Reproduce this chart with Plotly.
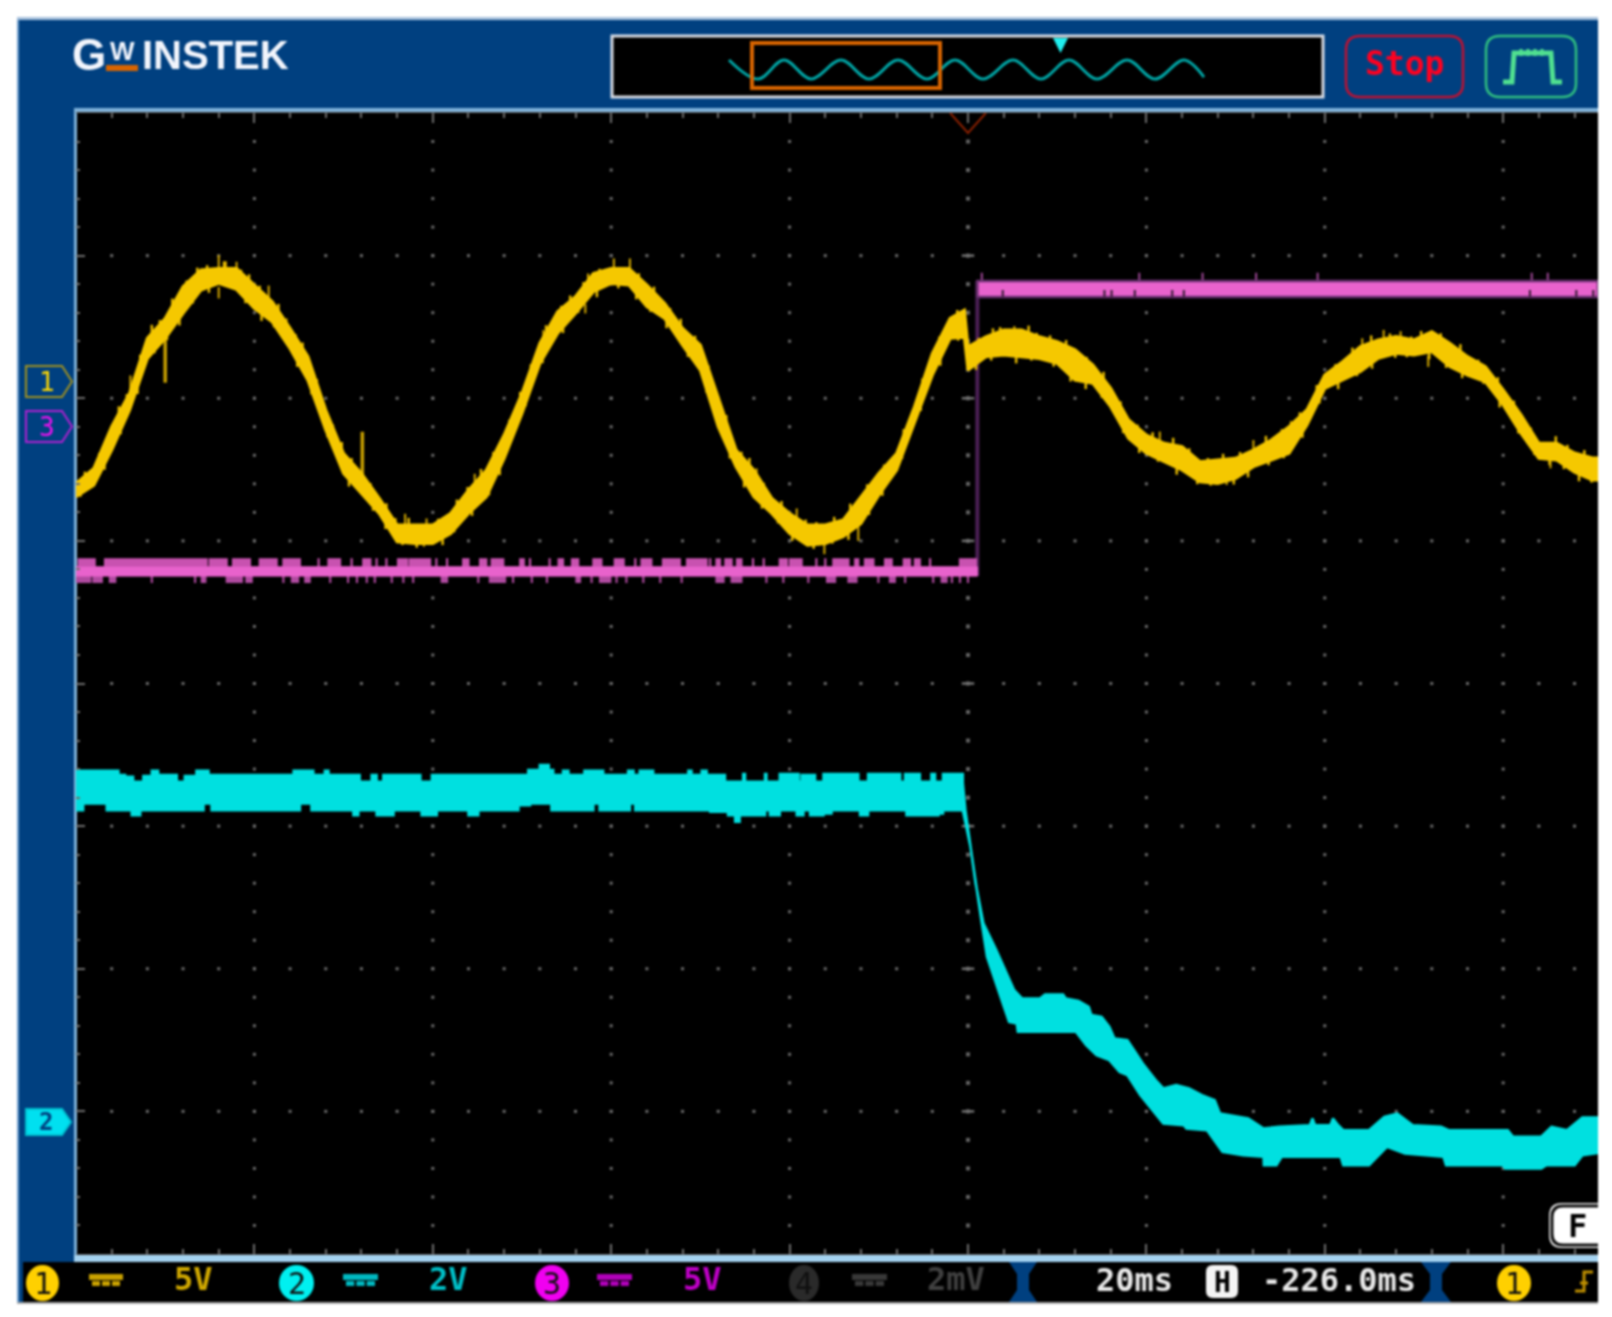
import numpy as np
import plotly.graph_objects as go

# ---------- time base (ms, 20 ms/div, 0 at trigger) and vertical scale (divisions from centre)
ch1_t = [-100,-98,-96,-94,-92,-90,-88,-86,-84,-82,-80,-78,-76,-74,-72,-70,-68,-66,-64,-62,-60,-58,-56,-54,-52,-50,
         -48,-46,-44,-42,-40,-38,-36,-34,-32,-30,-28,-26,-24,-22,-20,-18,-16,-14,-12,-10,-8,-6,-4,-2,-0.4,0,
         2,4,6,8,10,12,14,16,18,20,22,24,26,28,30,32,34,36,38,40,42,44,46,48,50,52,54,56,58,60,62,64,66,68,70,70.63]
ch1_top = [1.403,1.508,1.800,2.034,2.420,2.560,2.782,2.899,2.910,2.910,2.794,2.677,2.490,2.291,1.917,1.613,1.473,1.298,1.111,1.111,1.111,1.192,1.356,1.496,1.742,2.034,
           2.384,2.607,2.712,2.875,2.910,2.910,2.794,2.665,2.490,2.373,2.010,1.637,1.496,1.298,1.192,1.111,1.111,1.146,1.309,1.473,1.613,1.940,2.314,2.560,2.618,2.361,
           2.431,2.478,2.478,2.431,2.397,2.339,2.233,2.070,1.848,1.742,1.684,1.661,1.555,1.567,1.579,1.637,1.707,1.801,1.918,2.163,2.257,2.362,2.409,2.432,2.409,2.467,2.385,2.292,2.222,2.058,1.883,1.684,1.684,1.616,1.581,1.581]
ch1_bot = [1.309,1.391,1.637,1.917,2.279,2.420,2.595,2.758,2.805,2.763,2.630,2.536,2.349,2.127,1.777,1.473,1.333,1.192,0.994,0.982,0.982,1.052,1.192,1.309,1.578,1.894,
           2.244,2.455,2.595,2.747,2.805,2.794,2.642,2.560,2.373,2.197,1.800,1.520,1.309,1.192,1.052,0.970,0.982,1.029,1.122,1.321,1.496,1.823,2.162,2.420,2.427,2.197,
           2.291,2.303,2.291,2.279,2.245,2.128,2.105,1.941,1.719,1.614,1.555,1.497,1.415,1.403,1.439,1.520,1.567,1.614,1.813,2.070,2.128,2.187,2.280,2.315,2.303,2.327,2.222,2.163,2.116,1.953,1.754,1.579,1.567,1.482,1.426,1.426]
ch1_glitch_t = [-90.0, -67.9]
ch1_glitch_a = [2.42, 1.45]
ch1_glitch_b = [2.109, 1.765]
ch1_spike_t = [-93.9,-84.0,-83.2,-82.0,-84.0,-78.4,-76.4,-63.1,-60.7,-61.0,-55.3,-53.9,-47.6,-42.6,-42.9,-39.7,-37.9,-16.1,-19.2,-23.7,-12.3,5.2,12.6,21.5,29.0,32.0,46.6,51.6,65.3,48.5,44.2,36.2]
ch1_spike_a = [2.03,2.85,2.85,2.85,2.78,2.66,2.47,1.08,1.08,1.0,1.33,1.33,2.38,2.74,2.66,2.88,2.88,0.99,1.15,1.45,1.13,2.40,2.16,1.70,1.42,1.60,2.38,2.30,1.60,2.40,2.30,1.70]
ch1_spike_b = [2.16,3.004,2.96,2.957,2.70,2.79,2.56,1.19,1.157,0.959,1.47,1.309,2.478,2.875,2.595,2.98,2.98,0.907,1.227,1.508,1.0,2.506,2.116,1.766,1.392,1.707,2.479,2.22,1.509,2.47,2.42,1.84]
# small noise hairs on the yellow band: position and height above the upper / below the lower edge
ch1_up_t = [-99,-97.4,-95.2,-94.3,-92.8,-91.5,-90.6,-89.2,-87.6,-86.4,-85.3,-83.4,-81.5,-80.6,-79.4,-77.3,-75.4,-74.6,-73,-71.2,-70.2,-69.1,-67,-65.2,-64.2,-62.7,-59.4,-57.3,-56.1,-54.6,-53.2,-51.4,-50.2,-49,-47.3,-45.6,-44.6,-43.1,-41.3,-36.9,-35.2,-33.4,-32.2,-30.6,-29.1,-27.1,-25.4,-24.5,-22.9,-20.9,-18.2,-17,-15,-13.2,-11.3,-9.4,-7.2,-5.1,-3.2,-1.2,1.2,2.8,3.6,6.8,7.7,9.2,11,13.3,15.2,17.1,19,20.7,23,24.8,26.9,28.6,30.5,33.4,35.2,37.2,39.1,41.2,43.1,45.2,47.3,49.7,50.8,53,55.2,57.2,59.4,61.2,63.1,65.9,67.2,69.1]
ch1_up_h = [.03,.02,.05,.03,.04,.06,.03,.05,.02,.04,.03,.05,.02,.04,.03,.05,.02,.04,.03,.02,.05,.03,.02,.04,.03,.05,.02,.04,.03,.05,.03,.02,.04,.03,.05,.02,.04,.03,.02,.03,.04,.02,.05,.03,.02,.04,.03,.05,.02,.04,.03,.02,.04,.05,.03,.02,.04,.03,.02,.03,.02,.04,.03,.05,.02,.03,.04,.02,.05,.03,.02,.04,.05,.03,.02,.04,.03,.05,.02,.03,.04,.02,.04,.05,.03,.02,.04,.03,.05,.02,.04,.03,.02,.05,.03,.04]
ch1_dn_t = [-99.5,-96.8,-95,-93.1,-91.2,-89.8,-88.4,-86.9,-85.1,-81,-79.2,-77.8,-75.2,-73.6,-71.8,-69.4,-66.7,-65.3,-63.4,-61.8,-58.9,-57.6,-55.6,-53.7,-52.5,-49.6,-47.7,-45.4,-43.7,-41.6,-39.2,-37.2,-35.6,-33.8,-31.4,-29.3,-26.7,-25.1,-23.1,-21.3,-19.7,-17.3,-15.2,-13.4,-11.1,-9.6,-7.4,-5.3,-3.1,-1.1,0.9,2.6,5.4,7.1,9.6,11.5,13.2,15,17.4,19.2,21.3,23.4,25.7,27.2,29.8,31.4,33.7,35.4,37.5,39.4,41.5,43.6,45.3,47.9,49.2,51.7,53.6,55.4,57.8,59.6,61.7,63.5,65.2,66.8,68.5,69.9]
ch1_dn_h = [.02,.04,.03,.05,.02,.03,.05,.02,.04,.03,.05,.02,.04,.03,.02,.05,.03,.04,.02,.03,.05,.02,.04,.03,.05,.02,.03,.04,.02,.05,.03,.04,.02,.05,.03,.02,.04,.05,.03,.02,.04,.03,.02,.05,.03,.04,.02,.03,.05,.02,.04,.03,.05,.02,.03,.04,.05,.02,.03,.04,.02,.05,.03,.02,.04,.05,.03,.02,.04,.03,.05,.02,.04,.03,.02,.05,.03,.04,.02,.05,.03,.02,.04,.03,.05,.02]

# CH2: stepped envelope before the transition, then the falling part
ch2_step_top_t = [-100,-95.25,-94.5,-93.6,-92.45,-91.5,-90.8,-88.7,-87.8,-86.5,-85.15,-75.6,-73.4,-72.1,-71.7,-68.2,-66.85,-66.3,-65.55,-61.4,-60.1,-49.3,-48.0,-47.6,-47.4,-47.0,-46.5,-45.4,-44.8,-43.0,-40.9,-38.1,-37.5,-36.8,-35.3,-31.35,-31.0,-29.85,-29.3,-27.25,-25.2,-25.0,-22.75,-22.6,-21.1,-19.0,-18.65,-17.15,-16.2,-12.3,-11.2,-7.6,-7.05,-5.4,-4.1,-3.7,-2.8]
ch2_step_top_v = [-0.612,-0.642,-0.654,-0.689,-0.649,-0.612,-0.642,-0.689,-0.649,-0.612,-0.642,-0.612,-0.642,-0.612,-0.642,-0.689,-0.642,-0.689,-0.642,-0.689,-0.642,-0.607,-0.572,-0.607,-0.572,-0.607,-0.642,-0.612,-0.642,-0.612,-0.642,-0.612,-0.642,-0.612,-0.642,-0.612,-0.642,-0.612,-0.642,-0.689,-0.635,-0.689,-0.635,-0.689,-0.635,-0.689,-0.642,-0.689,-0.635,-0.689,-0.635,-0.689,-0.635,-0.689,-0.635,-0.689,-0.635]
ch2_step_bot_t = [-100,-99.2,-96.55,-93.75,-92.8,-85.7,-84.8,-74.9,-73.6,-68.9,-68.35,-66.3,-64.4,-61.25,-59.55,-56.0,-54.9,-50.4,-49.1,-46.7,-42.0,-41.3,-37.9,-37.3,-28.9,-26.9,-26.1,-25.6,-22.75,-22.2,-21.1,-19.2,-18.45,-17.7,-16.2,-15.3,-12.1,-11.2,-6.9,-3.3,-2.8]
ch2_step_bot_v = [-0.888,-0.841,-0.888,-0.923,-0.888,-0.841,-0.888,-0.841,-0.888,-0.923,-0.888,-0.923,-0.888,-0.923,-0.888,-0.923,-0.888,-0.853,-0.841,-0.888,-0.841,-0.888,-0.841,-0.888,-0.899,-0.923,-0.970,-0.923,-0.888,-0.923,-0.888,-0.923,-0.888,-0.923,-0.911,-0.888,-0.923,-0.888,-0.923,-0.911,-0.888]
ch2_fall_top_t = [-0.58,-0.29,0.86,1.73,3.17,5.18,6.05,8.07,8.64,10.66,10.95,12.39,13.54,13.83,14.98,15.85,16.42,17.87,18.73,19.59,21.04,21.9,23.34,24.78,26.22,27.66,28.24,31.41,33.14,34.87,38.33,38.62,38.9,40.63,40.92,41.5,42.07,44.96,46.68,48.13,49.86,53.03,53.89,60.52,61.1,64.27,65.42,67.15,68.88,70.63]
ch2_fall_top_v = [-0.696,-0.888,-1.402,-1.682,-1.869,-2.150,-2.208,-2.208,-2.180,-2.180,-2.208,-2.225,-2.267,-2.325,-2.337,-2.407,-2.489,-2.501,-2.582,-2.664,-2.781,-2.839,-2.816,-2.839,-2.886,-2.921,-3.015,-3.050,-3.120,-3.108,-3.097,-3.050,-3.097,-3.097,-3.050,-3.097,-3.132,-3.132,-3.038,-3.015,-3.097,-3.108,-3.132,-3.132,-3.178,-3.178,-3.108,-3.132,-3.043,-3.043]
ch2_fall_bot_t = [-0.58,0.28,1.44,2.13,4.03,4.61,5.47,5.59,12.1,13.25,14.41,15.85,17.0,17.87,19.31,21.9,24.2,24.49,26.8,28.53,30.83,33.14,33.17,34.58,35.16,41.79,42.07,44.96,46.97,48.99,53.31,53.6,59.94,60.23,64.27,64.84,68.01,68.88,70.63]
ch2_fall_bot_v = [-0.888,-1.145,-1.636,-1.916,-2.267,-2.372,-2.384,-2.442,-2.442,-2.536,-2.606,-2.641,-2.723,-2.746,-2.886,-3.085,-3.097,-3.120,-3.132,-3.284,-3.307,-3.319,-3.377,-3.377,-3.319,-3.319,-3.377,-3.377,-3.249,-3.295,-3.319,-3.377,-3.377,-3.400,-3.400,-3.377,-3.377,-3.307,-3.291]

# CH3: low level, step at t_step, high level
ch3_step_t = 1.05
ch3_low_core = [0.753, 0.818]
ch3_low_fringe = [0.705, 0.879]
ch3_high_core = [2.710, 2.822]
ch3_high_spike = 2.88
ch3_low_up = [(-99.7,-97.9),(-96.75,-96.2),(-96.0,-91.9),(-91.7,-88.0),(-87.8,-85.35),(-85.0,-83.1),(-82.4,-80.5),(-79.4,-77.5),(-76.75,-74.9),(-72.8,-72.8),(-71.7,-70.4),(-69.1,-69.1),(-67.8,-67.0),(-66.3,-66.3),(-65.2,-65.2),(-63.9,-62.9),(-62.6,-60.3),(-59.6,-59.6),(-58.4,-58.4),(-56.6,-56.0),(-54.7,-54.0),(-53.4,-52.1),(-50.2,-49.8),(-49.1,-49.1),(-46.9,-46.9),(-45.9,-45.4),(-44.4,-43.7),(-42.0,-41.1),(-39.6,-38.6),(-37.3,-37.3),(-36.6,-35.5),(-34.2,-32.3),(-31.5,-29.3),(-28.9,-28.9),(-28.2,-27.8),(-27.2,-26.5),(-25.9,-25.4),(-24.1,-24.1),(-22.9,-22.9),(-21.1,-20.3),(-19.95,-18.65),(-17.0,-17.0),(-16.0,-16.0),(-15.1,-13.4),(-12.65,-12.3),(-11.55,-10.6),(-9.3,-8.55),(-7.2,-6.5),(-5.95,-5.4),(-4.25,-4.25),(-0.9,0.9)]
ch3_low_down = [(-99.9,-98.4),(-98.05,-97.1),(-96.2,-95.6),(-91.5,-91.5),(-86.65,-86.65),(-85.9,-85.5),(-83.1,-81.4),(-80.9,-80.3),(-76.75,-76.75),(-75.8,-75.1),(-74.3,-73.8),(-71.5,-71.5),(-69.5,-69.5),(-68.5,-68.5),(-67.4,-67.4),(-66.5,-66.5),(-64.6,-64.6),(-63.3,-63.3),(-62.2,-62.2),(-59.0,-58.4),(-54.9,-54.9),(-53.6,-51.9),(-51.0,-51.0),(-48.9,-48.9),(-47.2,-47.2),(-43.9,-43.5),(-42.2,-42.2),(-41.25,-40.1),(-39.4,-39.4),(-38.3,-38.3),(-36.4,-36.4),(-34.5,-34.5),(-32.1,-32.1),(-28.2,-27.4),(-26.5,-25.4),(-22.6,-22.6),(-20.7,-20.7),(-17.9,-17.9),(-15.8,-14.9),(-13.4,-12.5),(-10.05,-10.05),(-8.75,-8.2),(-7.05,-7.05),(-3.9,-3.9),(-2.95,-2.4),(-1.8,-1.8),(-0.9,-0.9),(0,0)]
ch3_high_up_t = [1.55,19.2,26.3,32.3,39.2,63.2,65.0]
ch3_high_notch_t = [3.9,15.3,16.1,18.7,22.9,24.2,63.0,68.2,70.1]

# overview strip
overview_x = [117,146,172,199,229,257,286,315,343,371,401,429,457,485,515,543,572,592]
overview_y = [1,-1,1,-1,1,-1,1,-1,1,-1,1,-1,1,-1,1,-1,1,-0.8]

channel_labels = ["1", "2", "3", "4"]
scale_labels = ["5V", "2V", "5V", "2mV"]
time_scale = "20ms"
h_position = "-226.0ms"

W, H = 1612, 1317
BLUE = "#004080"
MONO = "DejaVu Sans Mono"
YEL, CYA, PNK = "#F5C800", "#00E0E0", "#E862CC"


def X(p): return p / W
def Y(p): return 1 - p / H


fig = go.Figure()
shapes, notes = [], []


def rect(x0, y0, x1, y1, fill, line=None, lw=0, layer="below"):
    shapes.append(dict(type="rect", xref="paper", yref="paper", x0=X(x0), x1=X(x1), y0=Y(y0), y1=Y(y1),
                       fillcolor=fill, line=dict(color=line or fill, width=lw), layer=layer))


def path(points, fill=None, line=None, lw=2, close=True, layer="above"):
    d = "M" + " L".join(f"{X(a):.5f},{Y(b):.5f}" for a, b in points) + (" Z" if close else "")
    shapes.append(dict(type="path", xref="paper", yref="paper", path=d, fillcolor=fill or "rgba(0,0,0,0)",
                       line=dict(color=line or "rgba(0,0,0,0)", width=lw), layer=layer))


def round_rect(x0, y0, x1, y1, r, fill=None, line=None, lw=2, layer="above"):
    a, b, c, d = X(x0), X(x1), Y(y0), Y(y1)
    rx, ry = r / W, r / H
    p = (f"M{a+rx:.5f},{c:.5f} L{b-rx:.5f},{c:.5f} Q{b:.5f},{c:.5f} {b:.5f},{c-ry:.5f} L{b:.5f},{d+ry:.5f} "
         f"Q{b:.5f},{d:.5f} {b-rx:.5f},{d:.5f} L{a+rx:.5f},{d:.5f} Q{a:.5f},{d:.5f} {a:.5f},{d+ry:.5f} "
         f"L{a:.5f},{c-ry:.5f} Q{a:.5f},{c:.5f} {a+rx:.5f},{c:.5f} Z")
    shapes.append(dict(type="path", xref="paper", yref="paper", path=p, fillcolor=fill or "rgba(0,0,0,0)",
                       line=dict(color=line or "rgba(0,0,0,0)", width=lw), layer=layer))


def ellipse(x0, y0, x1, y1, fill):
    shapes.append(dict(type="circle", xref="paper", yref="paper", x0=X(x0), x1=X(x1), y0=Y(y0), y1=Y(y1),
                       fillcolor=fill, line=dict(color=fill, width=0), layer="above"))


def text(t, x, y, size, color, family=MONO, bold=False):
    notes.append(dict(text=f"<b>{t}</b>" if bold else t, xref="paper", yref="paper", x=X(x), y=Y(y), xanchor="center",
                      yanchor="middle", showarrow=False, font=dict(family=family, size=size, color=color)))


# ---------- instrument frame
rect(17, 17, 1598, 1302, BLUE)
rect(17, 17, 1598, 20, "#A6C0DC")
rect(17, 20, 19, 1302, "#6C9CCC")
rect(74, 108, 1598, 112, "#7FB2DA")
rect(74, 108, 77, 1256, "#7FB2DA")
rect(77, 112, 1598, 1255, "#000000")
rect(74, 1255, 1598, 1262, "#A4D2F0")
rect(23, 1262, 1598, 1302, "#000000")
rect(17, 1302, 1598, 1304, "#AAAAAA")

# logo
text("G", 89, 55, 44, "#F2F5FC", "Liberation Sans", True)
text("W", 122, 51, 26, "#F2F5FC", "Liberation Sans", True)
rect(106, 65, 138, 71, "#D86400")
text("INSTEK", 215, 55, 40, "#F2F5FC", "Liberation Sans", True)

# overview
rect(612, 36, 1323, 97, "#000000", "#D8DCE4", 3)
rect(752, 43, 940, 88, "rgba(0,0,0,0)", "#D86400", 4, "above")
path([(1053, 38), (1068, 38), (1060.5, 53)], fill="#20F0F0")

# buttons
round_rect(1346, 36, 1463, 97, 14, line="#C01030", lw=2.5)
text("Stop", 1404, 64, 33, "#FF0020", MONO, True)
round_rect(1486, 36, 1576, 97, 14, line="#30C080", lw=2.5)
path([(1503, 82), (1512, 82), (1514, 53), (1551, 53), (1553, 82), (1562, 82)], line="#50E090", lw=5, close=False)
for tx in (1521, 1528, 1535, 1542):
    path([(tx, 49), (tx, 56)], line="#50E090", lw=3, close=False)

# channel markers on the left
path([(26, 366), (62, 366), (72, 381.5), (62, 397), (26, 397)], line="#A09020", lw=2)
text("1", 47, 382, 26, "#FFD800")
path([(26, 411), (62, 411), (72, 426.5), (62, 442), (26, 442)], line="#B020D0", lw=2)
text("3", 47, 427, 26, "#F010F0")
path([(26, 1109), (62, 1109), (71, 1122), (62, 1135), (26, 1135)], fill="#00E0F0", line="#00C0D0", lw=2)
text("2", 46, 1122, 24, BLUE, MONO, True)

# status bar
status = [(26, 59, 89, 123, 193, "#FFD000", "#C8A000", "#D0A800"),
          (279, 314, 343, 378, 448, "#00F0F0", "#00B8C0", "#00C0C8"),
          (535, 569, 597, 632, 702, "#F000F0", "#B000B8", "#C000C8"),
          (789, 819, 852, 887, 956, "#2A2A2A", "#383838", "#404040")]
for (e0, e1, s0, s1, tx, fillc, symc, txtc), lab, sc in zip(status, channel_labels, scale_labels):
    ellipse(e0, 1265, e1, 1301, fillc)
    text(lab, (e0 + e1) / 2, 1283, 30, "#101010")
    rect(s0, 1274, s1, 1280, symc, layer="above")
    for k in range(3):
        rect(s0 + 2 + k * (s1 - s0 - 4) / 3 + 1, 1281, s0 + 2 + (k + 1) * (s1 - s0 - 4) / 3 - 1, 1286, symc, layer="above")
    text(sc, tx, 1279, 32, txtc, MONO, True)

for cx, hw in ((1023, 14), (1436, 15)):
    path([(cx - hw, 1262), (cx + hw, 1262), (cx + 6, 1274), (cx + 6, 1290), (cx + hw, 1302), (cx - hw, 1302),
          (cx - 6, 1290), (cx - 6, 1274)], fill=BLUE)
text(time_scale, 1134, 1280, 32, "#E8E8E8", MONO, True)
round_rect(1206, 1265, 1238, 1298, 7, fill="#F4F4F4")
text("H", 1222, 1282, 28, "#000000", MONO, True)
text(h_position, 1339, 1280, 32, "#E8E8E8", MONO, True)
ellipse(1497, 1265, 1531, 1301, "#FFD000")
text("1", 1514, 1283, 30, "#101010")
path([(1575, 1291), (1584, 1291), (1584, 1272), (1593, 1272)], line="#C09000", lw=3, close=False)
path([(1580, 1283), (1588, 1283)], line="#C09000", lw=3, close=False)
round_rect(1549, 1203, 1610, 1248, 13, fill="#E8E8E8")
round_rect(1552, 1206, 1610, 1245, 11, fill="#FFFFFF", line="#111111", lw=3)
rect(1598, 1200, 1612, 1250, "#FFFFFF", layer="above")
text("F", 1577, 1226, 32, "#000000", MONO, True)

# ---------- graticule
gx, gy = [], []
for m in range(-80, 61, 20):
    for k in range(-19, 20):
        gx.append(m); gy.append(k / 5)
for n in range(-3, 4):
    for m in range(-96, 70, 4):
        gx.append(m); gy.append(n)
fig.add_trace(go.Scatter(x=gx, y=gy, mode="markers", marker=dict(symbol="square", size=3, color="#6A6A6A", line=dict(width=0))))
fig.add_trace(go.Scatter(x=[0] * 39, y=[k / 5 for k in range(-19, 20)], mode="markers",
                         marker=dict(symbol="square", size=4, color="#626262", line=dict(width=0))))
cx_, cy_ = [], []
for n in range(-3, 4):
    cx_ += [-0.7, 0.7, None]; cy_ += [n, n, None]
fig.add_trace(go.Scatter(x=cx_, y=cy_, mode="lines", line=dict(color="#707070", width=2.5)))

# trigger mark
fig.add_trace(go.Scatter(x=[-2, 0, 2], y=[4, 3.86, 4], mode="lines", line=dict(color="#8B2000", width=2)))


# ---------- signals
def band(tt, top, bt, bot, color, lw=1):
    fig.add_trace(go.Scatter(x=list(tt) + list(bt)[::-1], y=list(top) + list(bot)[::-1], mode="lines", fill="toself",
                             fillcolor=color, line=dict(color=color, width=lw)))


def stepped(t, v, end):
    xs, ys = [], []
    for i, (a, b) in enumerate(zip(t, v)):
        nxt = t[i + 1] if i + 1 < len(t) else end
        xs += [a, nxt]; ys += [b, b]
    return xs, ys


def blocks(bl, lo, hi, color, pad=0.12):
    xs, ys = [], []
    for a, b in bl:
        xs += [a - pad, b + pad, b + pad, a - pad, a - pad, None]
        ys += [lo, lo, hi, hi, lo, None]
    fig.add_trace(go.Scatter(x=xs, y=ys, mode="lines", fill="toself", fillcolor=color, line=dict(color=color, width=0)))


def spikes(t, a, b, color, width):
    xs, ys = [], []
    for p, q, r in zip(t, a, b):
        xs += [p, p, None]; ys += [q, r, None]
    fig.add_trace(go.Scatter(x=xs, y=ys, mode="lines", line=dict(color=color, width=width)))


# CH2
ax, ay = stepped(ch2_step_top_t, ch2_step_top_v, ch2_fall_top_t[0])
bx, by = stepped(ch2_step_bot_t, ch2_step_bot_v, ch2_fall_bot_t[0])
band(ax + ch2_fall_top_t, ay + ch2_fall_top_v, bx + ch2_fall_bot_t, by + ch2_fall_bot_v, CYA, 2.5)

# CH3 step line, low and high levels
fig.add_trace(go.Scatter(x=[ch3_step_t, ch3_step_t], y=[ch3_low_core[0], ch3_high_core[1]], mode="lines",
                         line=dict(color="#4B1F55", width=4)))
blocks(ch3_low_up, ch3_low_core[1], ch3_low_fringe[1], "#C852B0")
blocks(ch3_low_down, ch3_low_fringe[0], ch3_low_core[0], "#B04AA0")
band([-100, ch3_step_t], [ch3_low_core[1]] * 2, [-100, ch3_step_t], [ch3_low_core[0]] * 2, PNK)
spikes(ch3_high_up_t, [ch3_high_core[1]] * 7, [ch3_high_spike] * 7, "#A04898", 2)
fig.add_trace(go.Scatter(x=[ch3_step_t, 70.63, 70.63, ch3_step_t, ch3_step_t],
                         y=[ch3_high_core[0], ch3_high_core[0], ch3_high_core[1], ch3_high_core[1], ch3_high_core[0]],
                         mode="lines", fill="toself", fillcolor=PNK, line=dict(color="#6A3070", width=2.5)))
spikes(ch3_high_notch_t, [ch3_high_core[0]] * 9, [2.759] * 9, "#301830", 2)

# CH1
spikes(ch1_glitch_t, ch1_glitch_a, ch1_glitch_b, "#C8A000", 3.5)
spikes(ch1_spike_t, ch1_spike_a, ch1_spike_b, "#D8AC00", 2)
up_base = np.interp(ch1_up_t, ch1_t, ch1_top)
dn_base = np.interp(ch1_dn_t, ch1_t, ch1_bot)
spikes(ch1_up_t, up_base, [b + h for b, h in zip(up_base, ch1_up_h)], "#E8BC00", 2.5)
spikes(ch1_dn_t, dn_base, [b - h for b, h in zip(dn_base, ch1_dn_h)], "#E8BC00", 2.5)
band(ch1_t, ch1_top, ch1_t, ch1_bot, YEL, 3)

# overview trace on its own small axes
fig.add_trace(go.Scatter(x=overview_x, y=overview_y, xaxis="x2", yaxis="y2", mode="lines",
                         line=dict(color="#00A4A4", width=3, shape="spline", smoothing=1.0)))

tick = "#6E6E6E"
fig.update_layout(
    width=W, height=H, margin=dict(l=0, r=0, t=0, b=0), showlegend=False,
    paper_bgcolor="#FFFFFF", plot_bgcolor="rgba(0,0,0,0)",
    xaxis=dict(domain=[X(76), X(1598)], range=[-100, 70.63], tick0=0, dtick=20, ticks="inside", ticklen=10, tickwidth=1.5,
               tickcolor=tick, showticklabels=False, showgrid=False, zeroline=False, showline=True, linecolor="#555555",
               mirror="ticks", minor=dict(tick0=0, dtick=4, ticks="inside", ticklen=5, tickcolor=tick, tickwidth=1.5)),
    yaxis=dict(domain=[Y(1254), Y(113)], range=[-4, 4], tick0=0, dtick=1, ticks="inside", ticklen=9, tickwidth=1.5,
               tickcolor=tick, showticklabels=False, showgrid=False, zeroline=False, showline=False,
               minor=dict(tick0=0, dtick=0.2, ticks="inside", ticklen=4, tickcolor=tick, tickwidth=1.5)),
    xaxis2=dict(domain=[X(612), X(1323)], range=[0, 711], visible=False, anchor="y2"),
    yaxis2=dict(domain=[Y(97), Y(36)], range=[-2.89, 3.53], visible=False, anchor="x2"),
    shapes=shapes, annotations=notes,
)

fig.write_html("out.html", config=dict(displayModeBar=False),
               post_script="document.body.style.margin='0';document.body.style.overflow='hidden';"
                           "document.getElementById('{plot_id}').style.filter='blur(0.9px)';")
